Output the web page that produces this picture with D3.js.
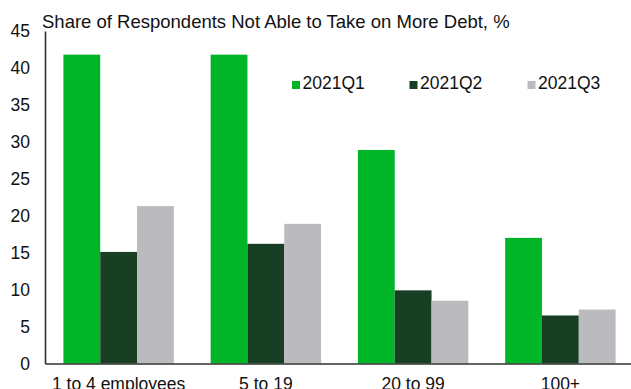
<!DOCTYPE html>
<html>
<head>
<meta charset="utf-8">
<script src="https://cdn.jsdelivr.net/npm/d3@7"></script>
<style>
  html, body { margin: 0; padding: 0; background: #fff; }
  svg { display: block; font-family: "Liberation Sans", Arial, sans-serif; }
</style>
</head>
<body>
<svg id="chart" width="631" height="389"></svg>
<script>
// Firm-size categories and survey-wave series
const categories = ["1 to 4 employees", "5 to 19", "20 to 99", "100+"];
const seriesNames = ["2021Q1", "2021Q2", "2021Q3"];
const q1Values = [41.8, 41.8, 28.9, 17.0];
const q2Values = [15.1, 16.2, 9.9, 6.5];
const q3Values = [21.3, 18.9, 8.5, 7.3];
const yTicks = [0, 5, 10, 15, 20, 25, 30, 35, 40, 45];
const colors = ["#00b628", "#183e24", "#bbbabf"];
const title = "Share of Respondents Not Able to Take on More Debt, %";

const seriesValues = [q1Values, q2Values, q3Values];
const rows = categories.map((c, i) => ({
  category: c,
  values: seriesNames.map((s, j) => ({ series: s, value: seriesValues[j][i] }))
}));

const svg = d3.select("#chart");
const plotLeft = 45, plotRight = 634, plotTop = 31, plotBottom = 363.5;
const labelSize = 17.5;

const x = d3.scaleBand().domain(categories).range([plotLeft, plotRight]).padding(0);
const bw = x.bandwidth();
const xInner = d3.scaleBand().domain(seriesNames)
  .range([bw * 0.125, bw * 0.875]).padding(0);
const y = d3.scaleLinear().domain([0, 45]).range([plotBottom, plotTop]);

// Bars
const groups = svg.append("g").selectAll("g").data(rows).join("g")
  .attr("transform", d => `translate(${x(d.category)},0)`);
groups.selectAll("rect").data(d => d.values).join("rect")
  .attr("x", d => xInner(d.series))
  .attr("width", xInner.bandwidth())
  .attr("y", d => y(d.value))
  .attr("height", d => y(0) - y(d.value))
  .attr("fill", (d, i) => colors[i]);

// Y axis
const yAxis = svg.append("g")
  .attr("transform", `translate(${plotLeft},0)`)
  .call(d3.axisLeft(y).tickValues(yTicks).tickSize(0).tickPadding(15));
yAxis.select(".domain").attr("stroke", "#2b3328").attr("stroke-width", 1.6);
yAxis.selectAll("text").attr("font-size", labelSize).attr("fill", "#111")
  .attr("font-family", "Liberation Sans, Arial, sans-serif");

// X axis
const xAxis = svg.append("g")
  .attr("transform", `translate(0,${plotBottom})`)
  .call(d3.axisBottom(x).tickSize(0).tickPadding(14.5));
xAxis.select(".domain").attr("stroke", "#2b3328").attr("stroke-width", 1.6);
xAxis.selectAll("text").attr("font-size", labelSize).attr("fill", "#111")
  .attr("font-family", "Liberation Sans, Arial, sans-serif");

// Title
svg.append("text")
  .attr("x", 42).attr("y", 28)
  .attr("font-size", 18.5).attr("fill", "#111")
  .text(title);

// Legend
const legendX = [292, 409.5, 527.5];
const legend = svg.append("g").selectAll("g").data(seriesNames).join("g")
  .attr("transform", (d, i) => `translate(${legendX[i]},81)`);
legend.append("rect").attr("width", 8).attr("height", 8)
  .attr("fill", (d, i) => colors[i]);
legend.append("text").attr("x", 10.5).attr("y", 8)
  .attr("font-size", labelSize).attr("fill", "#111")
  .text(d => d);
</script>
</body>
</html>
